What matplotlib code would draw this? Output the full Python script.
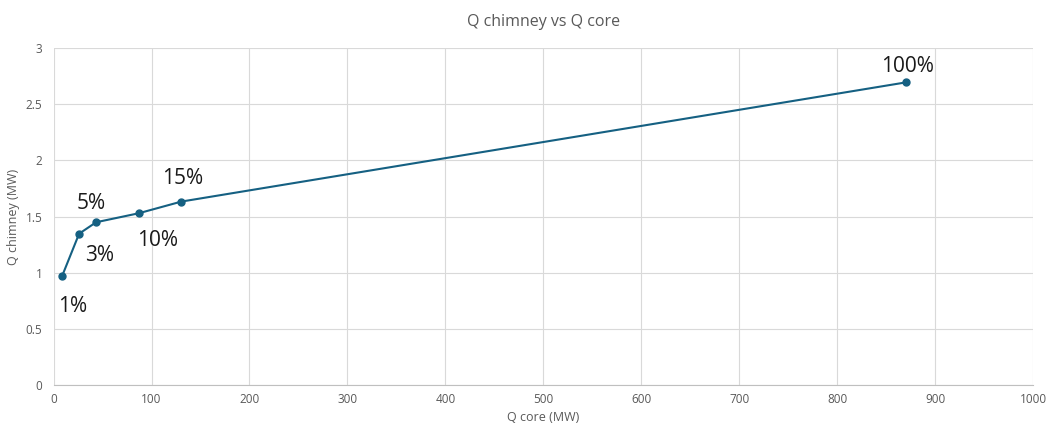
import matplotlib.pyplot as plt

q_core = [8.7, 26.1, 43.5, 87, 130.5, 870]
q_chimney = [0.97, 1.348, 1.45, 1.53, 1.634, 2.695]
labels = ['1%', '3%', '5%', '10%', '15%', '100%']
# label offsets (pixels) from each point
offsets = [(11, -30), (20, -22), (-5, 19), (19, -27), (1, 23), (2, 16)]

plt.rcParams['font.family'] = ['Open Sans', 'DejaVu Sans']
gray = '#595959'
line_col = '#156082'

fig = plt.figure(figsize=(10.5, 4.26), dpi=100)
ax = fig.add_axes([0.051, 0.096, 0.933, 0.791])

ax.plot(q_core, q_chimney, color=line_col, lw=1.5, marker='o', ms=5, zorder=3)
for x, y, lab, (dx, dy) in zip(q_core, q_chimney, labels, offsets):
    ax.annotate(lab, (x, y), xytext=(dx * 0.72, dy * 0.72), textcoords='offset points',
                ha='center', va='center', fontsize=15, color='#1a1a1a')

ax.set_xlim(0, 1000)
ax.set_ylim(0, 3)
ax.set_xticks(range(0, 1001, 100))
ax.set_yticks([0, 0.5, 1, 1.5, 2, 2.5, 3])
ax.set_yticklabels(['0', '0.5', '1', '1.5', '2', '2.5', '3'])
ax.grid(True, color='#d9d9d9', lw=0.8)
ax.set_axisbelow(True)
for s in ['top', 'right', 'left']:
    ax.spines[s].set_visible(False)
ax.spines['bottom'].set_color('#bfbfbf')
ax.tick_params(length=0, colors=gray, labelsize=8.5)
ax.tick_params(axis='x', pad=6)
ax.tick_params(axis='y', pad=8)

ax.set_xlabel('Q core (MW)', color=gray, fontsize=9, labelpad=3)
ax.set_ylabel('Q chimney (MW)', color=gray, fontsize=9, labelpad=4)
ax.set_title('Q chimney vs Q core', color=gray, fontsize=11.5, pad=16)

fig.savefig('out.png', dpi=100)
